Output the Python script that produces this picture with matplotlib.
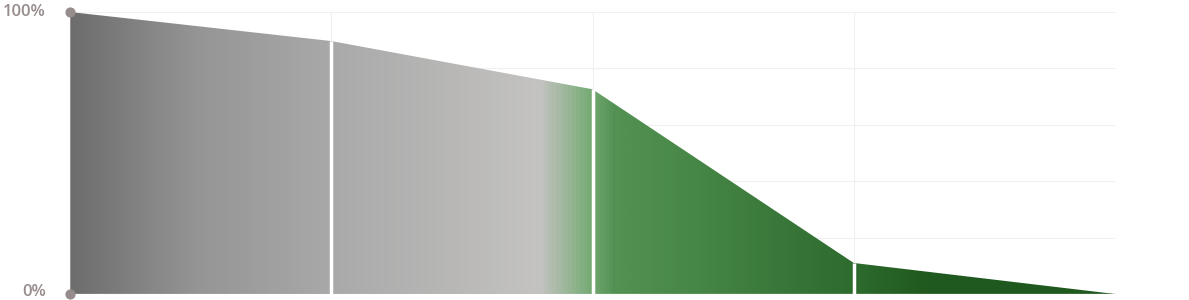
"""Funnel-style area chart with horizontal gradient fill."""
import matplotlib
matplotlib.use("Agg")
import matplotlib.pyplot as plt
import numpy as np
from matplotlib.colors import LinearSegmentedColormap

# stage positions and conversion share (%)
stages = [0, 1, 2, 3, 4]
values = [100, 89.7, 72.6, 11.0, 0]
ytick_vals = [0, 100]
ytick_labels = ["0%", "100%"]

# gradient stops (fraction of x range, colour)
grad_stops = [
    (0.00, "#6d6d6d"),
    (0.12, "#959595"),
    (0.25, "#a9a9a9"),
    (0.45, "#c4c3c1"),
    (0.495, "#7aad7a"),
    (0.52, "#549254"),
    (0.60, "#468646"),
    (0.75, "#2d6b2e"),
    (0.82, "#21591f"),
    (1.00, "#1f5a1f"),
]

LABEL_COLOR = "#978c8c"

fig = plt.figure(figsize=(11.89, 3.0), dpi=100)
ax = fig.add_axes([70 / 1189, 6 / 300, (1115 - 70) / 1189, 282 / 300])

xmin, xmax = stages[0], stages[-1]
ax.set_xlim(xmin, xmax)
ax.set_ylim(0, 100)

# light grid
for gy in np.arange(0, 101, 20):
    ax.axhline(gy, color="#f0f0f0", linewidth=0.8, zorder=0)
for gx in stages[1:]:
    ax.axvline(gx, color="#f0f0f0", linewidth=0.8, zorder=0)

# gradient fill clipped to the area polygon
cmap = LinearSegmentedColormap.from_list("funnel", grad_stops)
poly = ax.fill_between(stages, values, 0, facecolor="none", edgecolor="none")
grad = np.linspace(0, 1, 1200).reshape(1, -1)
img = ax.imshow(grad, cmap=cmap, aspect="auto", extent=[xmin, xmax, 0, 100],
                origin="lower", zorder=1, interpolation="bilinear")
img.set_clip_path(poly.get_paths()[0], transform=ax.transData)

# left edge of the area and bottom line
ax.plot([xmin, xmin], [0, values[0]], color="#a39a9a", linewidth=1.2, zorder=2)
ax.plot([xmin, xmax], [0, 0], color="#b9c4b9", linewidth=1.0, zorder=2)

# white separators between stages
ax.vlines(stages[1:-1], 0, values[1:-1], color="white", linewidth=2.5, zorder=3)

# axis end dots
ax.scatter([xmin, xmin], ytick_vals, s=40, color=LABEL_COLOR, zorder=4, clip_on=False)

for yv, lab in zip(ytick_vals, ytick_labels):
    ax.annotate(lab, xy=(xmin, yv), xytext=(-24, 2 if yv == 0 else 0),
                textcoords="offset pixels", ha="right", va="center",
                fontsize=12, fontfamily="Open Sans", fontweight="semibold",
                color=LABEL_COLOR, annotation_clip=False)

ax.set_xticks([])
ax.set_yticks([])
for s in ax.spines.values():
    s.set_visible(False)

fig.savefig("out.png", dpi=100)
plt.close(fig)
